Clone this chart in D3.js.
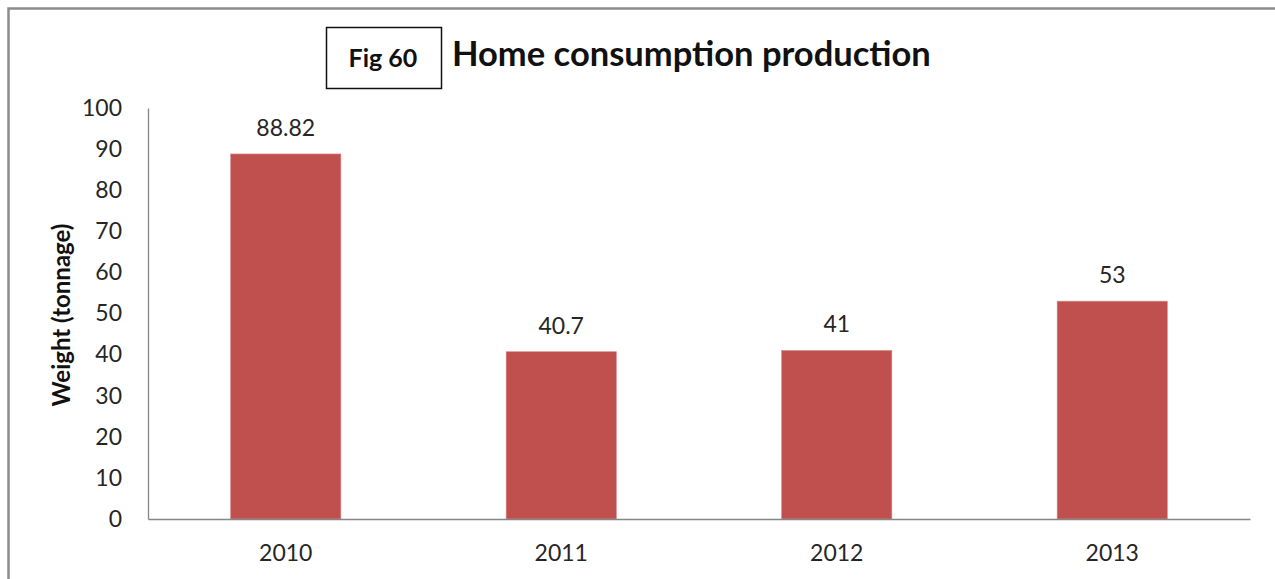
<!DOCTYPE html>
<html>
<head>
<meta charset="utf-8">
<script src="https://cdn.jsdelivr.net/npm/d3@7"></script>
<style>
  html, body { margin: 0; padding: 0; background: #fff; }
  svg { display: block; font-family: Lato, "Open Sans", sans-serif; }
</style>
</head>
<body>
<svg id="chart"></svg>
<script>
const W = 1275;
const H = 579;

// data
const years = ["2010", "2011", "2012", "2013"];
const weights = [88.82, 40.7, 41, 53];
const valueLabels = ["88.82", "40.7", "41", "53"];
const yTicks = [0, 10, 20, 30, 40, 50, 60, 70, 80, 90, 100];

const figLabel = "Fig 60";
const titleText = "Home consumption production";
const yTitle = "Weight (tonnage)";

const BAR = "#C0504D";
const AXIS = "#868686";
const TEXT = "#262626";

const m = { left: 148, right: 1250, top: 108, bottom: 519 };

const svg = d3.select("#chart")
  .attr("width", W)
  .attr("height", H);

// outer frame (clipped at right/bottom like the source)
svg.append("rect")
  .attr("x", 8.5).attr("y", 8.5)
  .attr("width", W + 20).attr("height", H + 20)
  .attr("fill", "#fff")
  .attr("stroke", "#8c8c8c")
  .attr("stroke-width", 2.5);

const x = d3.scaleBand()
  .domain(years)
  .range([m.left, m.right])
  .paddingInner(0.6)
  .paddingOuter(0.3);

const y = d3.scaleLinear()
  .domain([0, 100])
  .range([m.bottom, m.top]);

// y axis
const yAxis = svg.append("g")
  .attr("transform", `translate(${m.left},0)`)
  .call(d3.axisLeft(y).tickValues(yTicks).tickSize(0).tickPadding(26));
yAxis.select(".domain").attr("stroke", AXIS).attr("stroke-width", 1.3);
yAxis.selectAll("text")
  .attr("font-size", 23)
  .attr("fill", TEXT)
  .attr("font-family", "Lato, sans-serif");

// bars
svg.selectAll("rect.bar")
  .data(weights)
  .enter()
  .append("rect")
  .attr("class", "bar")
  .attr("x", (d, i) => x(years[i]))
  .attr("y", d => y(d))
  .attr("width", x.bandwidth())
  .attr("height", d => y(0) - y(d))
  .attr("fill", BAR)
  .attr("stroke", "#d9898a")
  .attr("stroke-width", 0.6);

// x axis
const xAxis = svg.append("g")
  .attr("transform", `translate(0,${m.bottom})`)
  .call(d3.axisBottom(x).tickSize(0).tickPadding(26));
xAxis.select(".domain").attr("stroke", AXIS).attr("stroke-width", 1.3);
xAxis.selectAll("text")
  .attr("font-size", 23)
  .attr("fill", TEXT)
  .attr("font-family", "Lato, sans-serif");

// value labels
svg.selectAll("text.val")
  .data(weights)
  .enter()
  .append("text")
  .attr("class", "val")
  .attr("x", (d, i) => x(years[i]) + x.bandwidth() / 2)
  .attr("y", d => y(d) - 18)
  .attr("text-anchor", "middle")
  .attr("font-size", 23)
  .attr("fill", TEXT)
  .text((d, i) => valueLabels[i]);

// y axis title
svg.append("text")
  .attr("transform", "translate(70,315) rotate(-90)")
  .attr("text-anchor", "middle")
  .attr("font-size", 24)
  .attr("font-weight", "bold")
  .attr("fill", "#111")
  .text(yTitle);

// Fig box
svg.append("rect")
  .attr("x", 326.5).attr("y", 27.5)
  .attr("width", 115).attr("height", 61)
  .attr("fill", "#fff")
  .attr("stroke", "#111")
  .attr("stroke-width", 1.5);
svg.append("text")
  .attr("x", 383).attr("y", 67)
  .attr("text-anchor", "middle")
  .attr("font-size", 25)
  .attr("font-weight", "bold")
  .attr("fill", "#111")
  .text(figLabel);

// title
svg.append("text")
  .attr("x", 452).attr("y", 66)
  .attr("font-size", 34.5)
  .attr("font-weight", "bold")
  .attr("fill", "#111")
  .text(titleText);
</script>
</body>
</html>
